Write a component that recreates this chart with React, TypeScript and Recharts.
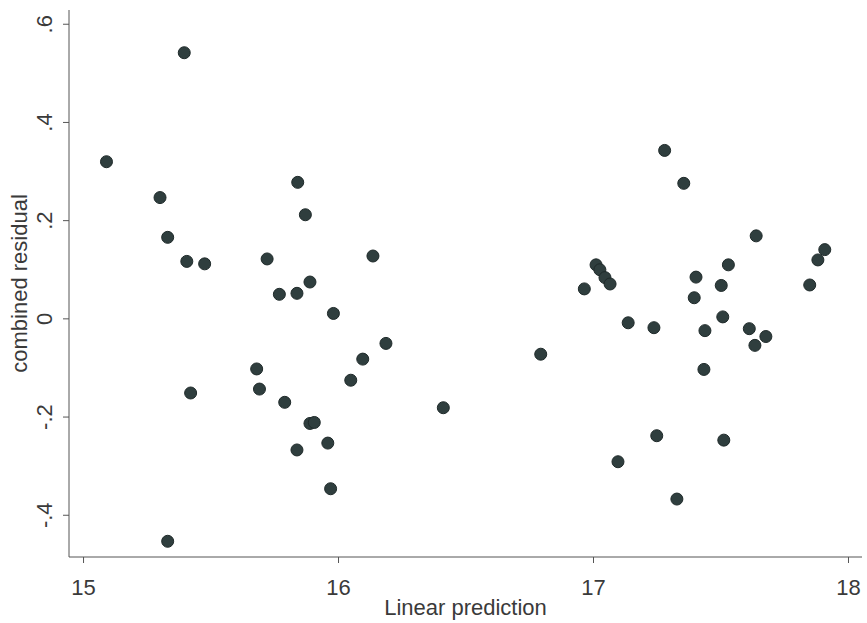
import React from 'react';
import { ScatterChart, Scatter, XAxis, YAxis, Label } from 'recharts';

const predicted = [
  15.09, 15.3, 15.395, 15.33, 15.405, 15.475, 15.72, 15.84, 15.768, 15.837,
  15.87, 16.135, 15.888, 15.98, 16.186, 16.095, 16.048, 16.411, 16.793, 15.679,
  15.42, 15.69, 15.789, 15.888, 15.905, 15.837, 15.958, 15.969, 15.33, 16.964,
  17.01, 17.025, 17.045, 17.065, 17.279, 17.354, 17.638, 17.907, 17.88, 17.848,
  17.529, 17.402, 17.501, 17.395, 17.136, 17.237, 17.437, 17.507, 17.611, 17.676,
  17.633, 17.433, 17.248, 17.511, 17.096, 17.327,
];

const residual = [
  0.32, 0.247, 0.542, 0.166, 0.117, 0.112, 0.122, 0.278, 0.05, 0.052,
  0.212, 0.128, 0.075, 0.011, -0.05, -0.082, -0.125, -0.181, -0.072, -0.102,
  -0.151, -0.143, -0.17, -0.213, -0.211, -0.267, -0.253, -0.346, -0.453, 0.061,
  0.11, 0.1, 0.084, 0.071, 0.343, 0.276, 0.169, 0.141, 0.12, 0.069,
  0.11, 0.085, 0.068, 0.043, -0.008, -0.018, -0.024, 0.004, -0.02, -0.036,
  -0.054, -0.103, -0.238, -0.247, -0.291, -0.367,
];

const xTicks = [15, 16, 17, 18];
const yTicks = [-0.4, -0.2, 0, 0.2, 0.4, 0.6];
const yTickLabels = ['-.4', '-.2', '0', '.2', '.4', '.6'];

const data = predicted.map((x, i) => ({ x, y: residual[i] }));

const FONT = '"Liberation Sans", Arial, sans-serif';
const TEXT = '#3a3a3a';
const AXIS = '#555';

const XTick = (props: any) => {
  const { x, y, payload } = props;
  return (
    <text x={x} y={y + 30} textAnchor="middle" fontSize={22} fontFamily={FONT} fill={TEXT}>
      {payload.value}
    </text>
  );
};

const YTick = (props: any) => {
  const { x, y, payload } = props;
  const idx = yTicks.findIndex((t) => Math.abs(t - payload.value) < 1e-6);
  const bx = 52;
  return (
    <text
      x={bx}
      y={y}
      textAnchor="middle"
      fontSize={22}
      fontFamily={FONT}
      fill={TEXT}
      transform={`rotate(-90, ${bx}, ${y})`}
    >
      {idx >= 0 ? yTickLabels[idx] : payload.value}
    </text>
  );
};

const Dot = (props: any) => (
  <circle cx={props.cx} cy={props.cy} r={6} fill="#2f3e3e" stroke="#1f2a2a" strokeWidth={1} />
);

export default function App() {
  return (
    <div style={{ position: 'absolute', left: 0, top: 0, background: '#fff' }}>
      <ScatterChart width={867} height={623} margin={{ top: 10, right: 5, bottom: 0, left: 0 }}>
        <XAxis
          type="number"
          dataKey="x"
          domain={[14.943, 18.053]}
          allowDataOverflow
          ticks={xTicks}
          height={66}
          stroke={AXIS}
          tickSize={6}
          tick={<XTick />}
        >
          <Label
            content={(p: any) => (
              <text x={465.5} y={615} textAnchor="middle" fontSize={22} fontFamily={FONT} fill={TEXT}>
                Linear prediction
              </text>
            )}
          />
        </XAxis>
        <YAxis
          type="number"
          dataKey="y"
          domain={[-0.485, 0.629]}
          allowDataOverflow
          ticks={yTicks}
          width={69}
          stroke={AXIS}
          tickSize={6}
          tick={<YTick />}
        >
          <Label
            content={(p: any) => (
              <text
                x={27}
                y={283.5}
                textAnchor="middle"
                fontSize={22}
                fontFamily={FONT}
                fill={TEXT}
                transform="rotate(-90, 27, 283.5)"
              >
                combined residual
              </text>
            )}
          />
        </YAxis>
        <Scatter data={data} shape={<Dot />} isAnimationActive={false} />
      </ScatterChart>
    </div>
  );
}
